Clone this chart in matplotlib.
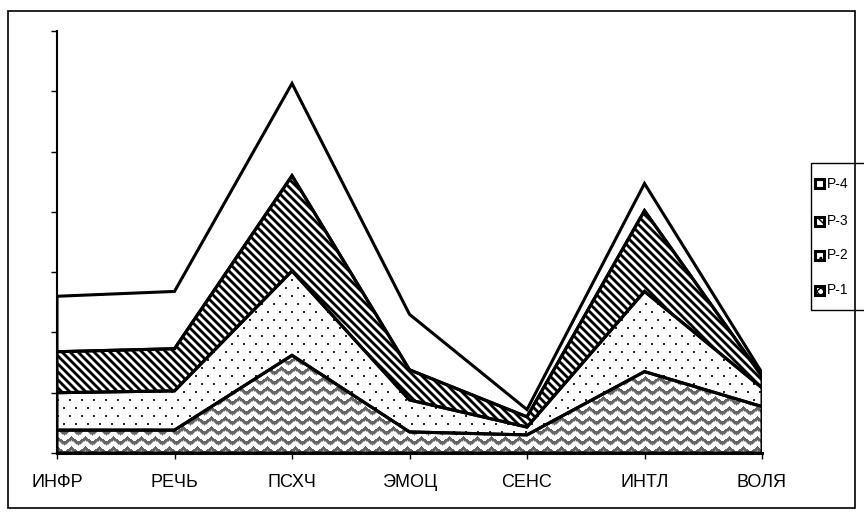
import numpy as np
import matplotlib
matplotlib.use("Agg")
import matplotlib.pyplot as plt
from matplotlib.patches import Rectangle

categories = ["ИНФР", "РЕЧЬ", "ПСХЧ", "ЭМОЦ", "СЕНС", "ИНТЛ", "ВОЛЯ"]
series_names = ["P-1", "P-2", "P-3", "P-4"]
p1 = [0.38, 0.38, 1.62, 0.35, 0.30, 1.35, 0.77]
p2 = [0.62, 0.65, 1.40, 0.53, 0.13, 1.33, 0.31]
p3 = [0.68, 0.70, 1.58, 0.50, 0.17, 1.34, 0.19]
p4 = [0.92, 0.95, 1.53, 0.92, 0.12, 0.45, 0.06]
yticks = [0, 1, 2, 3, 4, 5, 6, 7]

W, H = 864, 515
AX_L, AX_R, AX_T, AX_B = 57, 762, 31, 453


def zigzag(w, h):
    yy, xx = np.mgrid[0:h, 0:w]
    tri = np.abs((xx % 14) - 7) / 7.0 * 5
    d = (yy + tri) % 10
    img = np.ones((h, w))
    img[d < 3.5] = 0.4
    img[(d >= 3.5) & (d < 4.5)] = 0.7
    return np.dstack([img] * 3)


def stripes(w, h):
    yy, xx = np.mgrid[0:h, 0:w]
    v = 0.5 + 0.5 * np.cos(2 * np.pi * (xx - yy) / 8.0)
    v = np.clip((v - 0.5) * 1.8 + 0.5, 0, 1)
    return np.dstack([v] * 3)


def dots(w, h):
    yy, xx = np.mgrid[0:h, 0:w]
    row = yy // 8
    shift = (row % 2) * 6
    mask = ((yy % 8) < 2) & (((xx + shift) % 12) < 2)
    img = np.ones((h, w))
    img[mask] = 0.15
    return np.dstack([img] * 3)


fig = plt.figure(figsize=(W / 100, H / 100), dpi=100)
fig.patch.set_facecolor("white")

# outer chart border
fig.patches.append(Rectangle((8 / W, 1 - 508 / H), (855 - 8) / W, (508 - 11) / H,
                             transform=fig.transFigure, fill=False,
                             edgecolor="black", linewidth=1.2))

ax = fig.add_axes([AX_L / W, 1 - AX_B / H, (AX_R - AX_L) / W, (AX_B - AX_T) / H])
x = np.arange(len(categories))

polys = ax.stackplot(x, p1, p2, p3, p4, colors=["none"] * 4,
                     edgecolor="black", linewidth=2.2, zorder=3)
for pc in polys:
    pc.set_joinstyle("miter")

aw, ah = AX_R - AX_L, AX_B - AX_T
textures = [zigzag(aw, ah), dots(aw, ah), stripes(aw, ah), None]
for pc, tex in zip(polys, textures):
    if tex is None:
        continue
    im = ax.imshow(tex, extent=(0, len(categories) - 1, 0, 7), origin="upper",
                   interpolation="nearest", aspect="auto", zorder=2)
    im.set_clip_path(pc.get_paths()[0], ax.transData)

ax.set_xlim(0, len(categories) - 1)
ax.set_ylim(0, 7)
ax.set_yticks(yticks)
ax.set_yticklabels([])
ax.set_xticks(x)
ax.set_xticklabels(categories, family=["Liberation Sans Narrow", "Liberation Sans"],
                   fontsize=13)
ax.tick_params(axis="y", direction="out", length=4, width=1)
ax.tick_params(axis="x", direction="out", length=4, width=1, pad=11)
for side in ["top", "right"]:
    ax.spines[side].set_visible(False)
ax.spines["left"].set_linewidth(1.5)
ax.spines["bottom"].set_linewidth(2.2)
ax.set_facecolor("white")

# legend box, entries top to bottom P-4 .. P-1
fig.patches.append(Rectangle((811 / W, 1 - 310 / H), 60 / W, 147 / H,
                             transform=fig.transFigure, fill=False,
                             edgecolor="black", linewidth=1.0, clip_on=False))
hatches = ["xxxx", "..", "\\\\\\\\", ""]
legend_y = [290, 255, 221, 184]
for name, hatch, yy in zip(series_names, hatches, legend_y):
    fig.patches.append(Rectangle((815 / W, 1 - (yy + 4.5) / H), 9 / W, 9 / H,
                                 transform=fig.transFigure, facecolor="white",
                                 edgecolor="black", hatch=hatch, linewidth=2.2))
    fig.text(827 / W, 1 - yy / H, name, fontsize=10, family="Liberation Sans",
             va="center", ha="left")

fig.savefig("out.png", dpi=100)
